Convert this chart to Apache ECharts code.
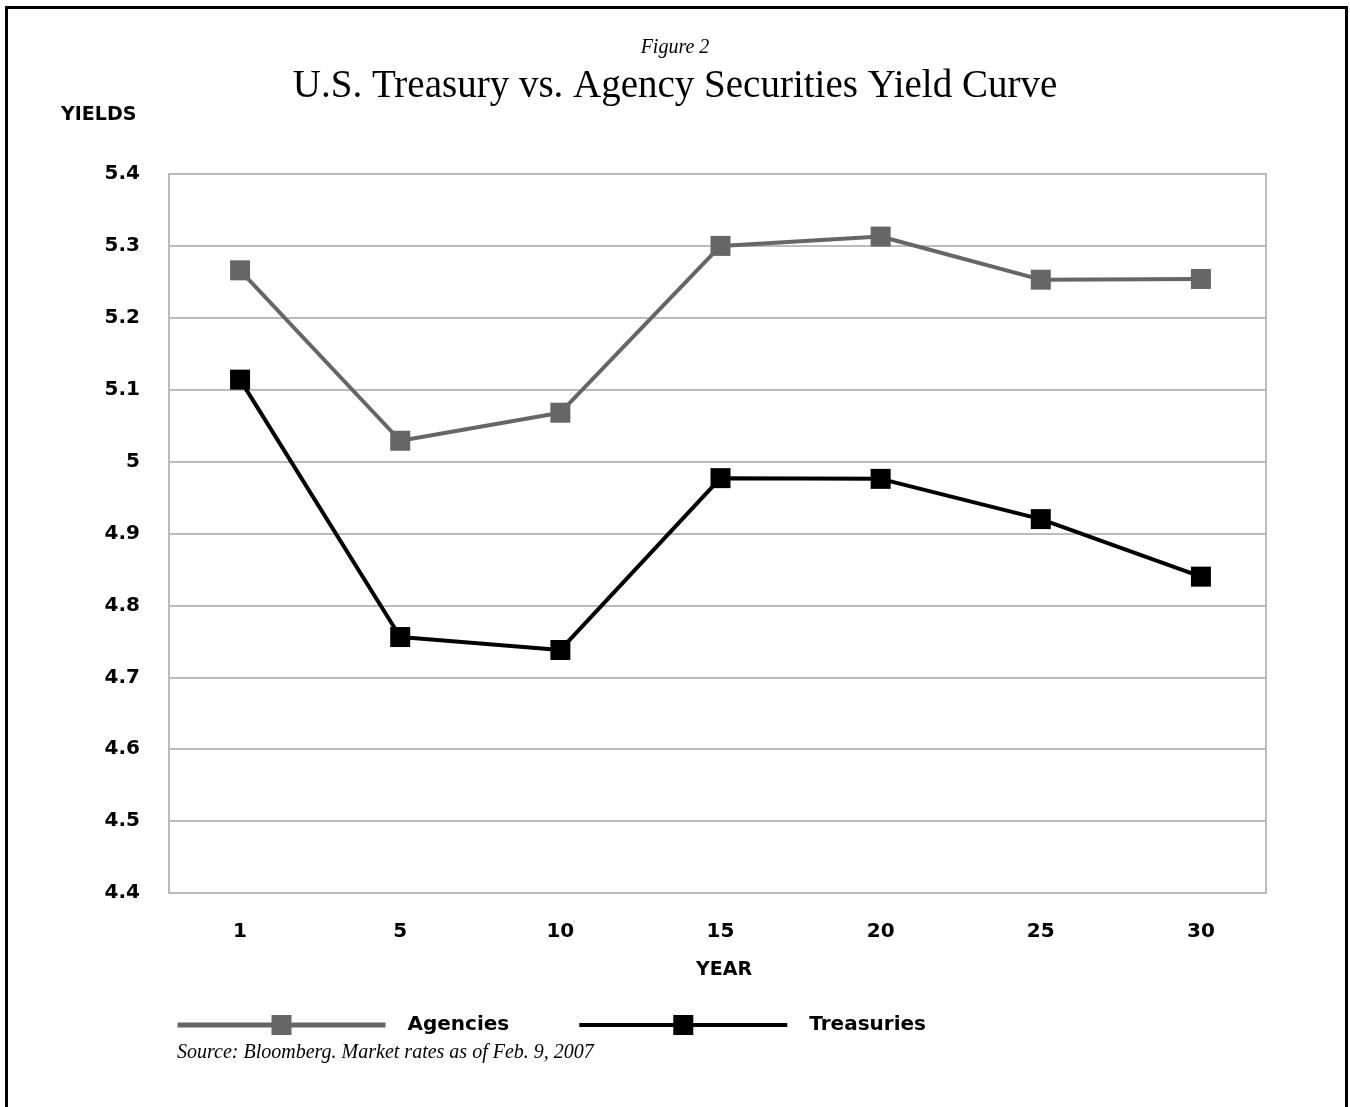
<!DOCTYPE html>
<html>
<head>
<meta charset="utf-8">
<script src="https://cdn.jsdelivr.net/npm/echarts@6/dist/echarts.min.js"></script>
<style>
html,body{margin:0;padding:0;background:#fff;}
#chart{width:1350px;height:1107px;}
</style>
</head>
<body>
<div id="chart"></div>
<script>
const years = ['1', '5', '10', '15', '20', '25', '30'];
const agencies = [5.266, 5.029, 5.068, 5.300, 5.313, 5.253, 5.254];
const treasuries = [5.114, 4.756, 4.738, 4.977, 4.976, 4.920, 4.840];
const yMin = 4.4, yMax = 5.4, yStep = 0.1;

const chart = echarts.init(document.getElementById('chart'), null, {renderer: 'canvas'});
const sans = 'DejaVu Sans';
const serif = 'Liberation Serif';

const option = {
  backgroundColor: '#ffffff',
  animation: false,
  title: [
    {text: 'Figure 2', left: 'center', top: 33, textStyle: {fontFamily: serif, fontStyle: 'italic', fontWeight: 'normal', fontSize: 20, color: '#000'}},
    {text: 'U.S. Treasury vs. Agency Securities Yield Curve', left: 'center', top: 62, textStyle: {fontFamily: serif, fontWeight: 'normal', fontSize: 39, color: '#000'}},
    {text: 'YIELDS', left: 56, top: 101, textStyle: {fontFamily: sans, fontWeight: 'bold', fontSize: 19, color: '#000'}},
    {text: 'YEAR', left: 691, top: 956, textStyle: {fontFamily: sans, fontWeight: 'bold', fontSize: 19, color: '#000'}},
    {text: 'Source: Bloomberg. Market rates as of Feb. 9, 2007', left: 172, top: 1038, textStyle: {fontFamily: serif, fontStyle: 'italic', fontWeight: 'normal', fontSize: 20, color: '#000'}}
  ],
  graphic: [
    {type: 'rect', shape: {x: 6.5, y: 7.5, width: 1340, height: 1200}, style: {fill: 'none', stroke: '#000', lineWidth: 3}, silent: true}
  ],
  legend: {
    left: 170, top: 1010,
    itemWidth: 208, itemHeight: 25, itemGap: 68,
    data: [
      {name: 'Agencies', lineStyle: {color: '#666666', width: 5}, itemStyle: {color: '#666666'}},
      {name: 'Treasuries', lineStyle: {color: '#000000', width: 4}, itemStyle: {color: '#000000'}}
    ],
    textStyle: {fontFamily: sans, fontWeight: 'bold', fontSize: 20, color: '#000', padding: [0, 0, 0, 17]}
  },
  grid: [
    {left: 169, top: 174, width: 1097, height: 719, show: true, borderColor: '#bbbbbb', borderWidth: 2, backgroundColor: 'transparent'},
    {left: 160, top: 174, width: 1121, height: 719}
  ],
  xAxis: [
    {gridIndex: 0, type: 'category', data: years, show: false},
    {gridIndex: 1, type: 'category', data: years, boundaryGap: true,
     axisLine: {show: false}, axisTick: {show: false},
     axisLabel: {margin: 29, fontFamily: sans, fontWeight: 'bold', fontSize: 20, color: '#000'}}
  ],
  yAxis: [
    {gridIndex: 0, type: 'value', min: yMin, max: yMax, interval: yStep,
     axisLine: {show: false}, axisTick: {show: false},
     splitLine: {show: true, lineStyle: {color: '#bbbbbb', width: 2}},
     axisLabel: {margin: 29, fontFamily: sans, fontWeight: 'bold', fontSize: 20, color: '#000',
       formatter: v => { const r = Math.round(v * 10) / 10; return (r % 1 === 0) ? String(r) : r.toFixed(1); }}},
    {gridIndex: 1, type: 'value', min: yMin, max: yMax, interval: yStep, show: false, splitLine: {show: false}}
  ],
  series: [
    {name: 'Agencies', type: 'line', xAxisIndex: 1, yAxisIndex: 1, data: agencies,
     symbol: 'rect', symbolSize: 20, color: '#666666',
     lineStyle: {color: '#666666', width: 4}, itemStyle: {color: '#666666'}},
    {name: 'Treasuries', type: 'line', xAxisIndex: 1, yAxisIndex: 1, data: treasuries,
     symbol: 'rect', symbolSize: 20, color: '#000000',
     lineStyle: {color: '#000000', width: 4}, itemStyle: {color: '#000000'}}
  ]
};
chart.setOption(option);
</script>
</body>
</html>
